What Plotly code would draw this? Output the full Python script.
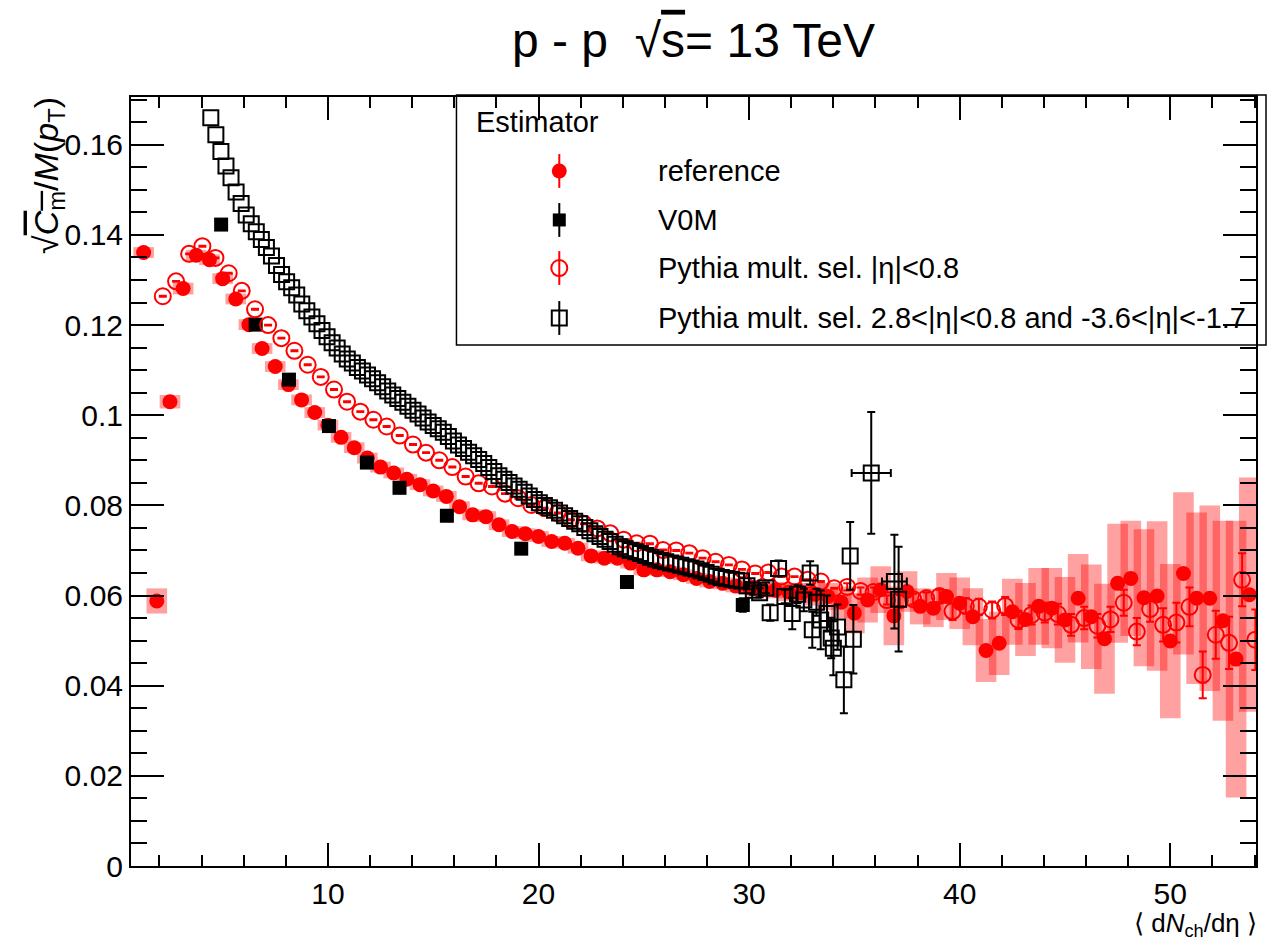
import plotly.graph_objects as go

# ---------------- data ----------------
ref_x = [1.25, 1.875, 2.5, 3.125, 3.75, 4.375, 5.0, 5.625, 6.25, 6.875,
         7.5, 8.125, 8.75, 9.375, 10.0, 10.625, 11.25, 11.875, 12.5, 13.125,
         13.75, 14.375, 15.0, 15.625, 16.25, 16.875, 17.5, 18.125, 18.75, 19.375,
         20.0, 20.625, 21.25, 21.875, 22.5, 23.125, 23.75, 24.375, 25.0, 25.625,
         26.25, 26.875, 27.5, 28.125, 28.75, 29.375, 30.0, 30.625, 31.25, 31.875,
         32.5, 33.125, 33.75, 34.375, 35.0, 35.625, 36.25, 36.875, 37.5, 38.125,
         38.75, 39.375, 40.0, 40.625, 41.25, 41.875, 42.5, 43.125, 43.75, 44.375,
         45.0, 45.625, 46.25, 46.875, 47.5, 48.125, 48.75, 49.375, 50.0, 50.625,
         51.25, 51.875, 52.5, 53.125, 53.75]
ref_y = [0.1361, 0.0588, 0.1030, 0.1281, 0.1355, 0.1345, 0.1303, 0.1258, 0.1201, 0.1148,
         0.1108, 0.1068, 0.1034, 0.1006, 0.0978, 0.0951, 0.0928, 0.0905, 0.0885, 0.0872,
         0.0858, 0.0846, 0.0832, 0.0820, 0.0797, 0.0779, 0.0775, 0.0757, 0.0742, 0.0737,
         0.0731, 0.0720, 0.0716, 0.0705, 0.0688, 0.0683, 0.0683, 0.0672, 0.0657, 0.0657,
         0.0653, 0.0646, 0.0638, 0.0631, 0.0627, 0.0621, 0.0617, 0.0613, 0.0612, 0.0608,
         0.0606, 0.0603, 0.0598, 0.0585, 0.0561, 0.0590, 0.0613, 0.0555, 0.0609, 0.0576,
         0.0572, 0.0598, 0.0583, 0.0553, 0.0478, 0.0494, 0.0564, 0.0547, 0.0576, 0.0572,
         0.0546, 0.0594, 0.0553, 0.0504, 0.0627, 0.0638, 0.0595, 0.0599, 0.0499, 0.0649,
         0.0594, 0.0594, 0.0544, 0.0459, 0.0602]
ref_sys = [0.0012, 0.0028, 0.0015, 0.0013, 0.0012, 0.0012, 0.0012, 0.0012, 0.0012, 0.0012,
           0.0012, 0.0012, 0.0012, 0.0012, 0.0012, 0.0012, 0.0012, 0.0012, 0.0012, 0.0012,
           0.0012, 0.0012, 0.0012, 0.0012, 0.0012, 0.0012, 0.0012, 0.0012, 0.0012, 0.0012,
           0.0012, 0.0012, 0.0012, 0.0012, 0.0012, 0.0012, 0.0012, 0.0012, 0.0012, 0.0012,
           0.0012, 0.0012, 0.0012, 0.0013, 0.0013, 0.0014, 0.0015, 0.0016, 0.0018, 0.0020,
           0.0022, 0.0025, 0.0030, 0.0035, 0.0045, 0.0050, 0.0052, 0.0065, 0.0045, 0.0040,
           0.0042, 0.0052, 0.0057, 0.0063, 0.0070, 0.0070, 0.0073, 0.0081, 0.0085, 0.0089,
           0.0095, 0.0098, 0.0116, 0.0122, 0.0132, 0.0128, 0.0152, 0.0166, 0.0171, 0.0180,
           0.0190, 0.0206, 0.0222, 0.0307, 0.0260]

v0m_x = [4.93, 6.57, 8.15, 10.05, 11.85, 13.40, 15.65, 19.18, 24.20, 29.70]
v0m_y = [0.1423, 0.1201, 0.1079, 0.0976, 0.0895, 0.0839, 0.0777, 0.0704, 0.0630, 0.0579]
v0m_err = [0.0005, 0.0005, 0.0005, 0.0005, 0.0005, 0.0005, 0.0006, 0.0007, 0.0009, 0.0015]

pyc_x = [2.16, 2.79, 3.41, 4.04, 4.66, 5.29, 5.91, 6.54, 7.16, 7.79,
         8.41, 9.04, 9.66, 10.29, 10.91, 11.54, 12.16, 12.79, 13.41, 14.04,
         14.66, 15.29, 15.91, 16.54, 17.16, 17.79, 18.41, 19.04, 19.66, 20.29,
         20.91, 21.54, 22.16, 22.79, 23.41, 24.04, 24.66, 25.29, 25.91, 26.54,
         27.16, 27.79, 28.41, 29.04, 29.66, 30.29, 30.91, 31.54, 32.16, 32.79,
         33.41, 34.04, 34.66, 35.29, 35.91, 36.54, 37.16, 37.79, 38.41, 39.04,
         39.66, 40.29, 40.91, 41.54, 42.16, 42.79, 43.41, 44.04, 44.66, 45.29,
         45.91, 46.54, 47.16, 47.79, 48.41, 49.04, 49.66, 50.29, 50.91, 51.54,
         52.16, 52.79, 53.41, 54.04]
pyc_y = [0.1264, 0.1297, 0.1358, 0.1375, 0.1349, 0.1315, 0.1276, 0.1235, 0.1200, 0.1171,
         0.1143, 0.1112, 0.1085, 0.1057, 0.1030, 0.1008, 0.0990, 0.0975, 0.0955, 0.0935,
         0.0917, 0.0900, 0.0885, 0.0864, 0.0849, 0.0842, 0.0826, 0.0816, 0.0801, 0.0794,
         0.0783, 0.0768, 0.0759, 0.0749, 0.0738, 0.0724, 0.0716, 0.0715, 0.0701, 0.0700,
         0.0694, 0.0683, 0.0675, 0.0668, 0.0658, 0.0649, 0.0651, 0.0642, 0.0642, 0.0635,
         0.0631, 0.0616, 0.0619, 0.0610, 0.0608, 0.0590, 0.0589, 0.0592, 0.0594, 0.0599,
         0.0565, 0.0577, 0.0575, 0.0568, 0.0577, 0.0546, 0.0557, 0.0562, 0.0559, 0.0535,
         0.0550, 0.0533, 0.0547, 0.0584, 0.0520, 0.0570, 0.0535, 0.0540, 0.0575, 0.0424,
         0.0513, 0.0495, 0.0635, 0.0502]
pyc_err = [0.0001] * 50 + [
    0.0001, 0.0001, 0.0008, 0.0008, 0.0010, 0.0010, 0.0012, 0.0012, 0.0013, 0.0014,
    0.0019, 0.0017, 0.0018, 0.0019, 0.0020, 0.0020, 0.0021, 0.0022, 0.0023, 0.0024,
    0.0025, 0.0026, 0.0028, 0.0029, 0.0030, 0.0028, 0.0037, 0.0044, 0.0043, 0.0052,
    0.0053, 0.0058, 0.0059, 0.0067]

pys_x = [4.44, 4.68, 4.92, 5.16, 5.40, 5.64, 5.88, 6.12, 6.36, 6.60,
         6.84, 7.08, 7.32, 7.56, 7.80, 8.04, 8.28, 8.52, 8.76, 9.00,
         9.24, 9.48, 9.72, 9.96, 10.20, 10.44, 10.68, 10.92, 11.16, 11.40,
         11.64, 11.88, 12.12, 12.36, 12.60, 12.84, 13.08, 13.32, 13.56, 13.80,
         14.04, 14.28, 14.52, 14.76, 15.00, 15.24, 15.48, 15.72, 15.96, 16.20,
         16.44, 16.68, 16.92, 17.16, 17.40, 17.64, 17.88, 18.12, 18.36, 18.60,
         18.84, 19.08, 19.32, 19.56, 19.80, 20.04, 20.28, 20.52, 20.76, 21.00,
         21.24, 21.48, 21.72, 21.96, 22.20, 22.44, 22.68, 22.92, 23.16, 23.40,
         23.64, 23.88, 24.12, 24.36, 24.60, 24.84, 25.08, 25.32, 25.56, 25.80,
         26.04, 26.28, 26.52, 26.76, 27.00, 27.24, 27.48, 27.72, 27.96, 28.20,
         28.44, 28.68, 28.92, 29.16, 29.40, 29.64]
pys_y = [0.1660, 0.1622, 0.1585, 0.1553, 0.1527, 0.1495, 0.1470, 0.1444, 0.1425, 0.1407,
         0.1390, 0.1372, 0.1353, 0.1332, 0.1312, 0.1296, 0.1283, 0.1267, 0.1247, 0.1232,
         0.1218, 0.1203, 0.1188, 0.1174, 0.1161, 0.1149, 0.1136, 0.1125, 0.1116, 0.1106,
         0.1098, 0.1089, 0.1081, 0.1072, 0.1063, 0.1054, 0.1045, 0.1037, 0.1029, 0.1020,
         0.1011, 0.1003, 0.0994, 0.0985, 0.0977, 0.0970, 0.0962, 0.0953, 0.0943, 0.0934,
         0.0926, 0.0918, 0.0910, 0.0902, 0.0893, 0.0884, 0.0875, 0.0866, 0.0858, 0.0851,
         0.0843, 0.0836, 0.0829, 0.0821, 0.0813, 0.0806, 0.0800, 0.0795, 0.0789, 0.0783,
         0.0777, 0.0771, 0.0765, 0.0759, 0.0751, 0.0744, 0.0737, 0.0731, 0.0725, 0.0720,
         0.0714, 0.0708, 0.0704, 0.0700, 0.0697, 0.0693, 0.0689, 0.0685, 0.0681, 0.0678,
         0.0675, 0.0672, 0.0670, 0.0667, 0.0664, 0.0661, 0.0659, 0.0655, 0.0651, 0.0647,
         0.0643, 0.0640, 0.0638, 0.0636, 0.0634, 0.0632]

pys2_x = [29.9, 30.2, 30.5, 30.8, 31.0, 31.4, 31.7, 32.05, 32.3, 32.6,
          32.9, 33.0, 33.2, 33.4, 33.7, 33.9, 34.0, 34.2, 34.5, 34.8,
          34.95, 37.1]
pys2_y = [0.0622, 0.0612, 0.0606, 0.0617, 0.0562, 0.0660, 0.0598, 0.0560, 0.0603, 0.0590,
          0.0650, 0.0524, 0.0585, 0.0546, 0.0560, 0.0506, 0.0483, 0.0530, 0.0413, 0.0688,
          0.0503, 0.0592]
pys2_err = [0.0008, 0.0010, 0.0010, 0.0012, 0.0018, 0.0018, 0.0015, 0.0035, 0.0020, 0.0025,
            0.0026, 0.0040, 0.0030, 0.0065, 0.0040, 0.0045, 0.0060, 0.0050, 0.0074, 0.0075,
            0.0076, 0.0116]

pys3_x = [35.8, 36.9]
pys3_y = [0.0872, 0.0631]
pys3_ey = [0.0135, 0.0104]
pys3_ex = [0.93, 0.59]

legend_labels = ["reference", "V0M", "Pythia mult. sel. |η|<0.8",
                 "Pythia mult. sel. 2.8<|η|<0.8 and -3.6<|η|<-1.7"]

# ---------------- figure ----------------
FONT = "Liberation Sans, Arial, Helvetica, sans-serif"
RED = "#ff0000"

fig = go.Figure()

# systematic boxes of reference
fig.add_trace(go.Bar(
    x=ref_x, y=[2 * s for s in ref_sys],
    base=[v - s for v, s in zip(ref_y, ref_sys)],
    width=0.98, marker=dict(color="rgba(255,0,0,0.37)", line=dict(width=0)),
    showlegend=False, hoverinfo="skip"))

fig.add_trace(go.Scatter(
    x=ref_x, y=ref_y, mode="markers", name=legend_labels[0],
    marker=dict(symbol="circle", size=15, color=RED), showlegend=False))

fig.add_trace(go.Scatter(
    x=v0m_x, y=v0m_y, mode="markers", name=legend_labels[1],
    marker=dict(symbol="square", size=14, color="black"),
    error_y=dict(type="data", array=v0m_err, color="black", thickness=2, width=4),
    showlegend=False))

fig.add_trace(go.Scatter(
    x=pyc_x, y=pyc_y, mode="markers", name=legend_labels[2],
    marker=dict(symbol="circle-open", size=16, color=RED, line=dict(width=2, color=RED)),
    error_y=dict(type="data", array=pyc_err, color=RED, thickness=2, width=4),
    showlegend=False))

fig.add_trace(go.Scatter(
    x=pys_x, y=pys_y, mode="markers", name=legend_labels[3],
    marker=dict(symbol="square-open", size=15, color="black", line=dict(width=2, color="black")),
    showlegend=False))

fig.add_trace(go.Scatter(
    x=pys2_x, y=pys2_y, mode="markers",
    marker=dict(symbol="square-open", size=15, color="black", line=dict(width=2, color="black")),
    error_y=dict(type="data", array=pys2_err, color="black", thickness=2, width=4),
    showlegend=False))

fig.add_trace(go.Scatter(
    x=pys3_x, y=pys3_y, mode="markers",
    marker=dict(symbol="square-open", size=15, color="black", line=dict(width=2, color="black")),
    error_y=dict(type="data", array=pys3_ey, color="black", thickness=2, width=4),
    error_x=dict(type="data", array=pys3_ex, color="black", thickness=2, width=4),
    showlegend=False))

# ---- manual legend (ROOT style box) on an invisible overlay axis [0,1]x[0,1] ----
leg_left, leg_right, leg_bottom, leg_top = 0.2893, 1.0089, 0.6775, 1.0026
leg_mark_x = 0.3807
leg_text_x = 0.4667
leg_rows = [0.9038, 0.8401, 0.7776, 0.7126]
leg_styles = [
    dict(symbol="circle", size=15, color=RED),
    dict(symbol="square", size=13, color="black"),
    dict(symbol="circle-open", size=16, color=RED, line=dict(width=2, color=RED)),
    dict(symbol="square-open", size=15, color="black", line=dict(width=2, color="black")),
]
leg_colors = [RED, "black", RED, "black"]
for yy, st, col in zip(leg_rows, leg_styles, leg_colors):
    fig.add_trace(go.Scatter(
        x=[leg_mark_x], y=[yy], xaxis="x2", yaxis="y2", mode="markers",
        marker=st, showlegend=False, hoverinfo="skip",
        error_y=dict(type="constant", value=0.022, color=col, thickness=2, width=0)))

shapes = [dict(type="rect", xref="paper", yref="paper",
               x0=leg_left, x1=leg_right, y0=leg_bottom, y1=leg_top,
               line=dict(color="black", width=1.5), fillcolor="white", layer="below")]

annotations = [
    dict(text="Estimator", xref="paper", yref="paper", x=0.3052, y=0.9675,
         xanchor="left", yanchor="middle", showarrow=False,
         font=dict(family=FONT, size=29, color="black")),
]
for yy, lab in zip(leg_rows, legend_labels):
    annotations.append(dict(text=lab, xref="paper", yref="paper", x=leg_text_x, y=yy,
                            xanchor="left", yanchor="middle", showarrow=False,
                            font=dict(family=FONT, size=29, color="black")))

# axis titles (ROOT style: aligned at the axis ends)
annotations.append(dict(
    text="√<span style='text-decoration:overline'><i>C</i><sub>m</sub></span>/<i>M</i>(<i>p</i><sub>T</sub>)",
    xref="paper", yref="paper", x=-0.074, y=1.003, xanchor="center", yanchor="top",
    textangle=-90, showarrow=False, font=dict(family=FONT, size=34, color="black")))
annotations.append(dict(
    text="⟨ d<i>N</i><sub>ch</sub>/dη ⟩",
    xref="paper", yref="paper", x=1.002, y=(866 - 942) / 769, xanchor="right", yanchor="bottom",
    borderpad=0, showarrow=False, font=dict(family=FONT, size=26, color="black")))

axis_common = dict(
    showline=True, linecolor="black", linewidth=2, mirror="allticks",
    ticks="inside", tickcolor="black", tickwidth=2, showgrid=False, zeroline=False,
    tickfont=dict(family=FONT, size=30, color="black"),
)

fig.update_layout(
    width=1270, height=942,
    margin=dict(l=131, r=12, t=97, b=76),
    paper_bgcolor="white", plot_bgcolor="white",
    barmode="overlay",
    title=dict(text="p - p  √<span style='text-decoration:overline'>s</span>= 13 TeV",
               x=0.5, xref="paper", xanchor="center",
               y=1 - 40 / 942, yref="container", yanchor="middle",
               font=dict(family=FONT, size=48, color="black")),
    xaxis=dict(range=[0.65, 54.07], tick0=0, dtick=10, ticklen=23,
               minor=dict(tick0=0, dtick=2, ticks="inside", ticklen=11,
                          tickwidth=2, tickcolor="black", showgrid=False),
               **axis_common),
    yaxis=dict(range=[0, 0.1706], tick0=0, dtick=0.02, ticklen=33,
               minor=dict(tick0=0, dtick=0.005, ticks="inside", ticklen=16,
                          tickwidth=2, tickcolor="black", showgrid=False),
               **axis_common),
    xaxis2=dict(overlaying="x", range=[0, 1], visible=False, fixedrange=True),
    yaxis2=dict(overlaying="y", range=[0, 1], visible=False, fixedrange=True),
    shapes=shapes,
    annotations=annotations,
    showlegend=False,
)

fig.write_html("out.html")
